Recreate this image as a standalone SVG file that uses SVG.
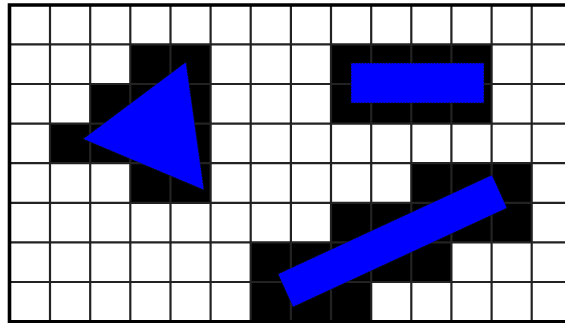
<svg xmlns="http://www.w3.org/2000/svg" width="565" height="324" viewBox="0 0 565 324">
<style>
.cell{fill:#000}
.grid{stroke:#222;stroke-width:2.2;fill:none}
.shape{fill:#0000ff;stroke:#111;stroke-width:0.8;stroke-dasharray:2 1}
</style>
<rect x="0" y="0" width="565" height="324" fill="#fff"/>
<g id="cells">
<rect class="cell" x="130.3" y="44.4" width="80.3" height="39.6"/>
<rect class="cell" x="331" y="44.4" width="160.6" height="79.2"/>
<rect class="cell" x="90.2" y="84" width="120.4" height="39.6"/>
<rect class="cell" x="50" y="123.6" width="160.6" height="39.6"/>
<rect class="cell" x="130.3" y="163.2" width="80.3" height="39.6"/>
<rect class="cell" x="411.3" y="163.2" width="120.4" height="39.6"/>
<rect class="cell" x="331" y="202.8" width="200.7" height="39.6"/>
<rect class="cell" x="250.7" y="242.4" width="200.7" height="39.6"/>
<rect class="cell" x="250.7" y="282" width="120.5" height="39.6"/>
</g>
<g id="grid" class="grid">
<path d="M50 5V321.6M90.2 5V321.6M130.3 5V321.6M170.5 5V321.6M210.6 5V321.6M250.7 5V321.6M290.9 5V321.6M331 5V321.6M371.2 5V321.6M411.3 5V321.6M451.4 5V321.6M491.6 5V321.6M531.7 5V321.6"/>
<path d="M9 44.4H565M9 84H565M9 123.6H565M9 163.2H565M9 202.8H565M9 242.4H565M9 282H565"/>
</g>
<g id="border" fill="none" stroke="#000">
<path d="M565 5H9.5V323" stroke-width="3.6"/>
<path d="M8 321.6H565" stroke-width="3"/>
</g>
<g id="triangle"><polygon class="shape" points="186,62 83,139 204,190"/></g>
<g id="rectangle"><rect class="shape" x="351" y="63" width="133" height="40"/></g>
<g id="bar"><polygon class="shape" points="278,274 492,175 507,208 293,307"/></g>
</svg>
